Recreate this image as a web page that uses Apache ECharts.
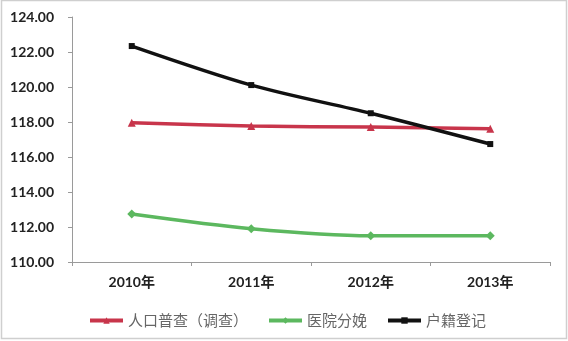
<!DOCTYPE html>
<html><head><meta charset="utf-8">
<script src="https://cdn.jsdelivr.net/npm/echarts@6/dist/echarts.min.js"></script>
<style>html,body{margin:0;padding:0;background:#fff}#c{width:568px;height:341px}</style>
</head><body><div id="c"></div>
<script>
const categories = ['2010年','2011年','2012年','2013年'];
const censusValues = [117.96, 117.77, 117.71, 117.62];
const hospitalValues = [112.74, 111.90, 111.50, 111.50];
const registryValues = [122.34, 120.11, 118.50, 116.74];
const seriesNames = ['人口普查（调查）','医院分娩','户籍登记'];

const chart = echarts.init(document.getElementById('c'), null, {renderer:'canvas'});
const fontFam = 'Lato, "Noto Sans CJK SC", sans-serif';
chart.setOption({
  animation:false,
  backgroundColor:'#fff',
  graphic:[{type:'rect',shape:{x:1.5,y:0.5,width:565,height:338},style:{fill:'none',stroke:'#cfcfcf',lineWidth:1.5},silent:true}],
  grid:{left:72,right:18,top:17,bottom:79},
  legend:{
    left:83, top:308, itemWidth:33, itemHeight:8, itemGap:19,
    lineStyle:{width:4},
    textStyle:{fontSize:15,color:'#666',fontFamily:'"Noto Sans CJK SC", sans-serif'},
    data:seriesNames
  },
  xAxis:{
    type:'category', data:categories, boundaryGap:true,
    axisLine:{lineStyle:{color:'#9a9a9a',width:1}},
    axisTick:{show:true,length:4,lineStyle:{color:'#9a9a9a'}},
    axisLabel:{fontSize:14,fontWeight:'bold',color:'#222',margin:13,fontFamily:fontFam}
  },
  yAxis:{
    type:'value', min:110, max:124, interval:2,
    axisLine:{show:true,lineStyle:{color:'#9a9a9a',width:1}},
    axisTick:{show:true,length:4,lineStyle:{color:'#9a9a9a'}},
    splitLine:{show:false},
    axisLabel:{fontSize:14,fontWeight:'bold',color:'#222',margin:18,fontFamily:fontFam,
      formatter:v=>v.toFixed(2)}
  },
  series:[
    {name:seriesNames[0],type:'line',data:censusValues,smooth:0.3,symbol:'triangle',symbolSize:8,
      lineStyle:{width:3.5,color:'#c8354b'},itemStyle:{color:'#c8354b'}},
    {name:seriesNames[1],type:'line',data:hospitalValues,smooth:0.3,symbol:'diamond',symbolSize:9,
      lineStyle:{width:3.5,color:'#5cb85f'},itemStyle:{color:'#5cb85f'}},
    {name:seriesNames[2],type:'line',data:registryValues,smooth:0.3,symbol:'rect',symbolSize:6,
      lineStyle:{width:3.5,color:'#111'},itemStyle:{color:'#111'}}
  ]
});
</script></body></html>
